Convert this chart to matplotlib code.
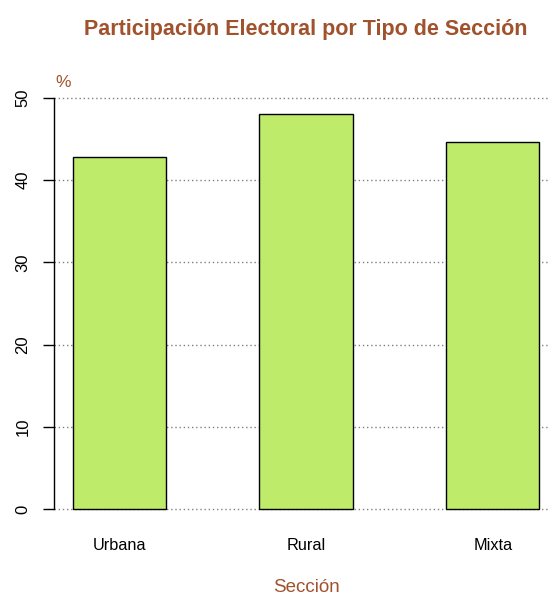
import matplotlib
matplotlib.use("Agg")
import matplotlib.pyplot as plt

# data
secciones = ["Urbana", "Rural", "Mixta"]
participacion = [42.8, 48.05, 44.65]
y_ticks = [0, 10, 20, 30, 40, 50]

sienna = "#A0522D"
verde = "#BFEB6B"

plt.rcParams['font.family'] = ['Liberation Sans', 'DejaVu Sans']

fig = plt.figure(figsize=(5.5, 5.95), dpi=100)
ax = fig.add_axes([0.0982, 0.117, 0.9164, 0.746])

pos = [1.5 + 2 * i for i in range(len(secciones))]
ax.bar(pos, participacion, width=1.0, color=verde, edgecolor="black", linewidth=1.0, zorder=2)

ax.set_xlim(0.8, 6.2)
ax.set_ylim(-2, 52)
for y in y_ticks:
    ax.axhline(y, color="#808080", linestyle=(0, (1, 2)), linewidth=1.0, zorder=1)

for s in ["top", "right", "bottom"]:
    ax.spines[s].set_visible(False)
ax.spines["left"].set_bounds(0, 50)
ax.spines["left"].set_linewidth(1.0)

ax.set_yticks(y_ticks)
ax.set_yticklabels([str(v) for v in y_ticks], rotation=90, va="center", fontsize=12)
ax.tick_params(axis="y", length=8, width=1.0, pad=9)
ax.set_xticks(pos)
ax.set_xticklabels(secciones, fontsize=11.7)
ax.tick_params(axis="x", length=0, pad=9)

fig.text(0.5564, 0.951, "Participación Electoral por Tipo de Sección", color=sienna,
         fontsize=15.5, fontweight="bold", ha="center", va="center")
fig.text(0.115, 0.862, "%", color=sienna, fontsize=12.5, ha="center", va="center")
fig.text(0.5564, 0.013, "Sección", color=sienna, fontsize=13.5, ha="center", va="center")

fig.savefig("out.png", dpi=100)
